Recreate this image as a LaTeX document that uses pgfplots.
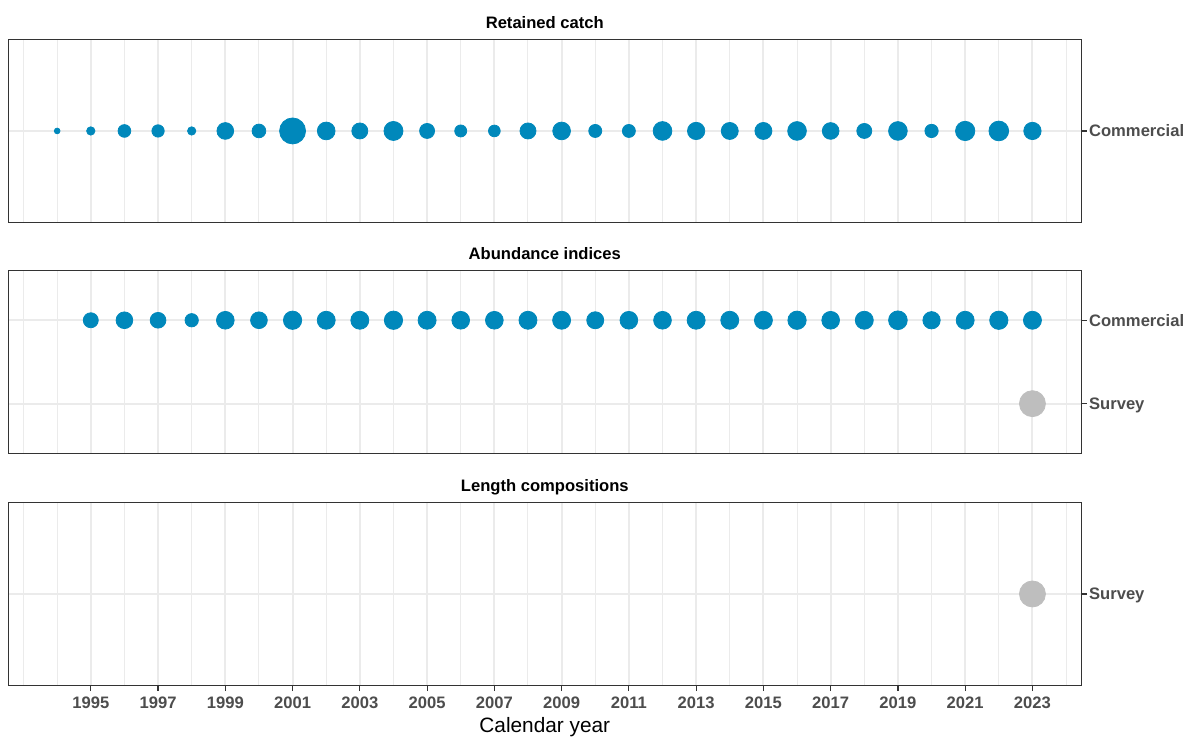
\documentclass[border=0pt]{standalone}
\usepackage{pgfplots}
\pgfplotsset{compat=1.18}
\usepackage{pgfplotstable}
\usepackage{fontspec}
\setmainfont{Liberation Sans}

\definecolor{cblue}{RGB}{0,136,187}
\definecolor{cgrey}{RGB}{190,190,190}
\definecolor{grid92}{RGB}{235,235,235}
\definecolor{grey20}{RGB}{51,51,51}
\definecolor{grey30}{RGB}{77,77,77}

% radius of each circle in pt
\pgfplotstableread{
year row r
1994 1 1.43
1995 1 2.08
1996 1 3.18
1997 1 3.08
1998 1 2.08
1999 1 4.18
2000 1 3.43
2001 1 6.50
2002 1 4.43
2003 1 4.00
2004 1 4.75
2005 1 3.75
2006 1 3.00
2007 1 2.93
2008 1 4.00
2009 1 4.43
2010 1 3.25
2011 1 3.25
2012 1 4.68
2013 1 4.33
2014 1 4.25
2015 1 4.25
2016 1 4.68
2017 1 4.18
2018 1 3.75
2019 1 4.68
2020 1 3.33
2021 1 4.83
2022 1 4.93
2023 1 4.33
}\retained

\pgfplotstableread{
year row r
1995 2 3.75
1996 2 4.18
1997 2 3.93
1998 2 3.33
1999 2 4.43
2000 2 4.18
2001 2 4.58
2002 2 4.50
2003 2 4.50
2004 2 4.58
2005 2 4.50
2006 2 4.43
2007 2 4.43
2008 2 4.50
2009 2 4.50
2010 2 4.25
2011 2 4.43
2012 2 4.43
2013 2 4.50
2014 2 4.50
2015 2 4.50
2016 2 4.58
2017 2 4.43
2018 2 4.50
2019 2 4.68
2020 2 4.33
2021 2 4.50
2022 2 4.58
2023 2 4.50
}\abundcomm

\pgfplotsset{
  panel/.style={
    width=536.4pt, height=91.75pt, scale only axis,
    anchor=south west,
    xmin=1992.55, xmax=2024.45,
    axis line style={grey20, line width=0.6pt},
    xtick={1995,1997,1999,2001,2003,2005,2007,2009,2011,2013,2015,2017,2019,2021,2023},
    minor xtick={1993,1994,1996,1998,2000,2002,2004,2006,2008,2010,2012,2014,2016,2018,2020,2022,2024},
    xmajorgrids, xminorgrids, ymajorgrids,
    major grid style={grid92, line width=1pt},
    minor grid style={grid92, line width=0.5pt},
    tick align=outside, major tick length=2.75pt, minor tick length=0pt,
    tick style={grey20, line width=0.6pt},
    xtick pos=left, ytick pos=right,
    yticklabel pos=right,
    ticklabel style={font=\fontsize{8.3}{10}\selectfont\bfseries, text=grey30},
    yticklabel style={anchor=base west, inner sep=0pt, xshift=1pt, yshift=-3pt},
    title style={font=\fontsize{8.3}{10}\selectfont\bfseries, text=black,
                 at={(0.5,1)}, anchor=base, yshift=-0.5pt},
  },
  noxticks/.style={xticklabels={}, xtick style={draw=none}},
  bubbles/.style={scatter, only marks, mark=*,
    scatter/use mapped color={draw=#1, fill=#1},
    point meta=\thisrow{r},
    visualization depends on={\thisrow{r} \as \rad},
    scatter/@pre marker code/.append style={/tikz/mark size=\rad pt}},
}

\begin{document}
\begin{tikzpicture}
\useasboundingbox (0,0) rectangle (593.5pt,368pt);

% Panel 1
\begin{axis}[panel, noxticks, at={(4.2pt,256.65pt)},
  title={Retained catch},
  ymin=0.4, ymax=1.6, ytick={1}, yticklabels={Commercial}]
  \addplot[bubbles=cblue] table[x=year, y=row] {\retained};
\end{axis}

% Panel 2
\begin{axis}[panel, noxticks, at={(4.2pt,141.15pt)},
  title={Abundance indices},
  ymin=0.4, ymax=2.6, ytick={1,2}, yticklabels={Survey,Commercial}]
  \addplot[bubbles=cblue] table[x=year, y=row] {\abundcomm};
  \addplot[only marks, mark=*, mark size=6.5pt, draw=cgrey, fill=cgrey] coordinates {(2023,1)};
\end{axis}

% Panel 3
\begin{axis}[panel, at={(4.2pt,25.15pt)},
  title={Length compositions},
  ymin=0.4, ymax=1.6, ytick={1}, yticklabels={Survey},
  xticklabels={1995,1997,1999,2001,2003,2005,2007,2009,2011,2013,2015,2017,2019,2021,2023},
  xticklabel style={anchor=base, yshift=-8.5pt, inner sep=0pt},
  xlabel={Calendar year},
  xlabel style={font=\fontsize{10.4}{12}\selectfont, text=black, at={(0.5,0)}, anchor=base, yshift=-23.5pt}]
  \addplot[only marks, mark=*, mark size=6.5pt, draw=cgrey, fill=cgrey] coordinates {(2023,1)};
\end{axis}
\end{tikzpicture}
\end{document}
